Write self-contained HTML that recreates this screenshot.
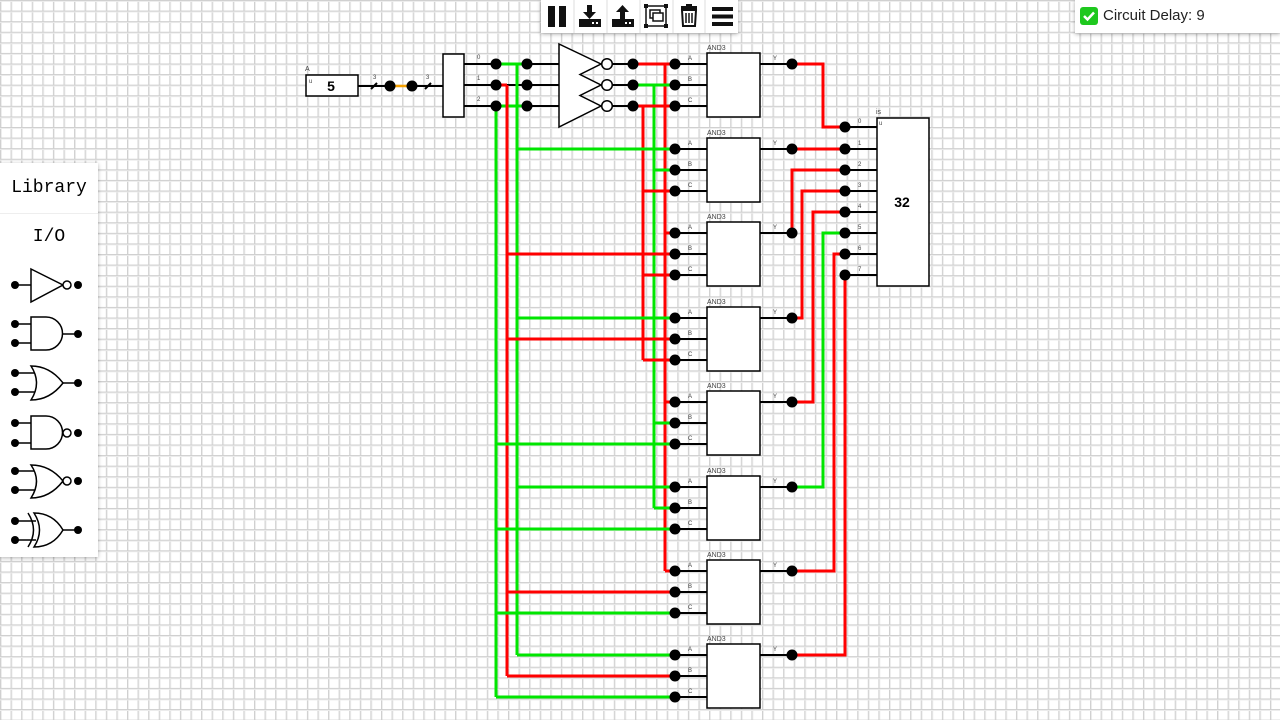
<!DOCTYPE html>
<html><head><meta charset="utf-8"><style>
html,body{margin:0;padding:0;width:1280px;height:720px;overflow:hidden;background:#fff;font-family:"Liberation Sans",sans-serif}
svg{position:absolute;left:0;top:0}
.tb{position:absolute;left:541px;top:0;width:197px;height:33px;background:#fff;box-shadow:0 1px 4px rgba(0,0,0,.35)}
.cd{position:absolute;left:1075px;top:0;width:205px;height:33px;background:#fff;box-shadow:0 1px 4px rgba(0,0,0,.35);font-size:15px;color:#222}
.lib{position:absolute;left:0;top:163px;width:98px;height:394px;background:#fff;box-shadow:0 1px 4px rgba(0,0,0,.3);font-family:"Liberation Mono",monospace}
</style></head><body>
<svg width="1280" height="720" xmlns="http://www.w3.org/2000/svg">
<defs>
<pattern id="g" width="10.583" height="10.583" patternUnits="userSpaceOnUse" x="0" y="0">
<rect width="10.583" height="10.583" fill="#fff"/>
<rect x="0" y="0" width="1" height="10.583" fill="#cfcfcf" shape-rendering="crispEdges"/>
<rect x="1" y="0" width="1" height="10.583" fill="#ececec" shape-rendering="crispEdges"/>
<rect x="0" y="0" width="10.583" height="1" fill="#cfcfcf" shape-rendering="crispEdges"/>
<rect x="0" y="1" width="10.583" height="1" fill="#ececec" shape-rendering="crispEdges"/>
</pattern>
</defs>
<rect width="1280" height="720" fill="url(#g)"/>

<!-- input -->
<text x="305" y="71" font-size="7" fill="#444">A</text>
<rect x="306" y="75" width="52" height="21" fill="#fff" stroke="#000" stroke-width="1.5"/>
<text x="309" y="83" font-size="6" fill="#444">u</text>
<text x="331" y="91" font-size="14" font-weight="bold" text-anchor="middle">5</text>
<g stroke="#000" stroke-width="2">
<line x1="358" y1="86" x2="390" y2="86"/><line x1="412" y1="86" x2="443" y2="86"/>
<line x1="371" y1="89" x2="377" y2="83"/><line x1="425" y1="89" x2="431" y2="83"/>
</g>
<line x1="390" y1="86" x2="412" y2="86" stroke="#f5a000" stroke-width="2.5"/>
<text x="373" y="79" font-size="6" fill="#444">3</text><text x="426" y="79" font-size="6" fill="#444">3</text>
<circle cx="390" cy="86" r="5.5"/><circle cx="412" cy="86" r="5.5"/>
<rect x="443" y="54" width="21" height="63" fill="#fff" stroke="#000" stroke-width="1.5"/>
<text x="477" y="59" font-size="6" fill="#444">0</text><text x="477" y="80" font-size="6" fill="#444">1</text><text x="477" y="101" font-size="6" fill="#444">2</text>

<g stroke="#000" stroke-width="2">
<line x1="464" y1="64" x2="496" y2="64"/><line x1="464" y1="85" x2="496" y2="85"/><line x1="464" y1="106" x2="496" y2="106"/>
<line x1="507" y1="85" x2="527" y2="85"/>
<line x1="527" y1="64" x2="560" y2="64"/><line x1="527" y1="85" x2="560" y2="85"/><line x1="527" y1="106" x2="560" y2="106"/>
<line x1="612" y1="64" x2="633" y2="64"/><line x1="612" y1="85" x2="633" y2="85"/><line x1="612" y1="106" x2="633" y2="106"/>
</g>
<g stroke-width="3" fill="none">
<line x1="500" y1="64" x2="527" y2="64" stroke="#00e600"/>
<line x1="500" y1="106" x2="527" y2="106" stroke="#00e600"/>
<line x1="496" y1="85" x2="507" y2="85" stroke="#f00"/>
<line x1="496" y1="106" x2="496" y2="697" stroke="#00e600"/>
<line x1="507" y1="85" x2="507" y2="676" stroke="#f00"/>
<line x1="517" y1="64" x2="517" y2="655" stroke="#00e600"/>
<line x1="665" y1="64" x2="665" y2="571" stroke="#f00"/>
<line x1="654" y1="85" x2="654" y2="508" stroke="#00e600"/>
<line x1="643" y1="106" x2="643" y2="360" stroke="#f00"/>
<line x1="638" y1="64" x2="675" y2="64" stroke="#f00"/>
<line x1="638" y1="85" x2="675" y2="85" stroke="#00e600"/>
<line x1="638" y1="106" x2="675" y2="106" stroke="#f00"/>
<line x1="517" y1="149" x2="675" y2="149" stroke="#00e600"/>
<line x1="654" y1="170" x2="675" y2="170" stroke="#00e600"/>
<line x1="643" y1="191" x2="675" y2="191" stroke="#f00"/>
<line x1="665" y1="233" x2="675" y2="233" stroke="#f00"/>
<line x1="507" y1="254" x2="675" y2="254" stroke="#f00"/>
<line x1="643" y1="275" x2="675" y2="275" stroke="#f00"/>
<line x1="517" y1="318" x2="675" y2="318" stroke="#00e600"/>
<line x1="507" y1="339" x2="675" y2="339" stroke="#f00"/>
<line x1="643" y1="360" x2="675" y2="360" stroke="#f00"/>
<line x1="665" y1="402" x2="675" y2="402" stroke="#f00"/>
<line x1="654" y1="423" x2="675" y2="423" stroke="#00e600"/>
<line x1="496" y1="444" x2="675" y2="444" stroke="#00e600"/>
<line x1="517" y1="487" x2="675" y2="487" stroke="#00e600"/>
<line x1="654" y1="508" x2="675" y2="508" stroke="#00e600"/>
<line x1="496" y1="529" x2="675" y2="529" stroke="#00e600"/>
<line x1="665" y1="571" x2="675" y2="571" stroke="#f00"/>
<line x1="507" y1="592" x2="675" y2="592" stroke="#f00"/>
<line x1="496" y1="613" x2="675" y2="613" stroke="#00e600"/>
<line x1="517" y1="655" x2="675" y2="655" stroke="#00e600"/>
<line x1="507" y1="676" x2="675" y2="676" stroke="#f00"/>
<line x1="496" y1="697" x2="675" y2="697" stroke="#00e600"/>
<polyline points="792,64 823,64 823,127 845,127" stroke="#f00"/>
<polyline points="792,149 845,149" stroke="#f00"/>
<polyline points="792,233 792,170 845,170" stroke="#f00"/>
<polyline points="792,318 802,318 802,191 845,191" stroke="#f00"/>
<polyline points="792,402 813,402 813,212 845,212" stroke="#f00"/>
<polyline points="792,487 823,487 823,233 845,233" stroke="#00e600"/>
<polyline points="792,571 834,571 834,254 845,254" stroke="#f00"/>
<polyline points="792,655 845,655 845,275" stroke="#f00"/>
</g>
<g fill="#000">
<circle cx="496" cy="64" r="5.5"/><circle cx="496" cy="85" r="5.5"/><circle cx="496" cy="106" r="5.5"/>
<circle cx="527" cy="64" r="5.5"/><circle cx="527" cy="85" r="5.5"/><circle cx="527" cy="106" r="5.5"/>
<circle cx="633" cy="64" r="5.5"/><circle cx="633" cy="85" r="5.5"/><circle cx="633" cy="106" r="5.5"/>
</g>
<path d="M559,44 L601,64 L580,74.5 L601,85 L580,95.5 L601,106 L559,127 Z" fill="#fff" stroke="#000" stroke-width="1.5"/>
<g fill="#fff" stroke="#000" stroke-width="1.5">
<circle cx="607" cy="64" r="5.3"/><circle cx="607" cy="85" r="5.3"/><circle cx="607" cy="106" r="5.3"/>
</g>

<g>
<g>
<text x="707" y="50" font-size="7" fill="#444">AND3</text>
<g stroke="#000" stroke-width="2"><line x1="675" y1="64" x2="707" y2="64"/><line x1="675" y1="85" x2="707" y2="85"/><line x1="675" y1="106" x2="707" y2="106"/><line x1="760" y1="64" x2="792" y2="64"/></g>
<rect x="707" y="53" width="53" height="64" fill="#fff" stroke="#000" stroke-width="1.5"/>
<g font-size="6" fill="#444"><text x="688" y="60">A</text><text x="688" y="81">B</text><text x="688" y="102">C</text><text x="773" y="60">Y</text></g>
<circle cx="675" cy="64" r="5.5"/><circle cx="675" cy="85" r="5.5"/><circle cx="675" cy="106" r="5.5"/><circle cx="792" cy="64" r="5.5"/>
</g>
<g transform="translate(0,85)">
<text x="707" y="50" font-size="7" fill="#444">AND3</text>
<g stroke="#000" stroke-width="2"><line x1="675" y1="64" x2="707" y2="64"/><line x1="675" y1="85" x2="707" y2="85"/><line x1="675" y1="106" x2="707" y2="106"/><line x1="760" y1="64" x2="792" y2="64"/></g>
<rect x="707" y="53" width="53" height="64" fill="#fff" stroke="#000" stroke-width="1.5"/>
<g font-size="6" fill="#444"><text x="688" y="60">A</text><text x="688" y="81">B</text><text x="688" y="102">C</text><text x="773" y="60">Y</text></g>
<circle cx="675" cy="64" r="5.5"/><circle cx="675" cy="85" r="5.5"/><circle cx="675" cy="106" r="5.5"/><circle cx="792" cy="64" r="5.5"/>
</g>
<g transform="translate(0,169)">
<text x="707" y="50" font-size="7" fill="#444">AND3</text>
<g stroke="#000" stroke-width="2"><line x1="675" y1="64" x2="707" y2="64"/><line x1="675" y1="85" x2="707" y2="85"/><line x1="675" y1="106" x2="707" y2="106"/><line x1="760" y1="64" x2="792" y2="64"/></g>
<rect x="707" y="53" width="53" height="64" fill="#fff" stroke="#000" stroke-width="1.5"/>
<g font-size="6" fill="#444"><text x="688" y="60">A</text><text x="688" y="81">B</text><text x="688" y="102">C</text><text x="773" y="60">Y</text></g>
<circle cx="675" cy="64" r="5.5"/><circle cx="675" cy="85" r="5.5"/><circle cx="675" cy="106" r="5.5"/><circle cx="792" cy="64" r="5.5"/>
</g>
<g transform="translate(0,254)">
<text x="707" y="50" font-size="7" fill="#444">AND3</text>
<g stroke="#000" stroke-width="2"><line x1="675" y1="64" x2="707" y2="64"/><line x1="675" y1="85" x2="707" y2="85"/><line x1="675" y1="106" x2="707" y2="106"/><line x1="760" y1="64" x2="792" y2="64"/></g>
<rect x="707" y="53" width="53" height="64" fill="#fff" stroke="#000" stroke-width="1.5"/>
<g font-size="6" fill="#444"><text x="688" y="60">A</text><text x="688" y="81">B</text><text x="688" y="102">C</text><text x="773" y="60">Y</text></g>
<circle cx="675" cy="64" r="5.5"/><circle cx="675" cy="85" r="5.5"/><circle cx="675" cy="106" r="5.5"/><circle cx="792" cy="64" r="5.5"/>
</g>
<g transform="translate(0,338)">
<text x="707" y="50" font-size="7" fill="#444">AND3</text>
<g stroke="#000" stroke-width="2"><line x1="675" y1="64" x2="707" y2="64"/><line x1="675" y1="85" x2="707" y2="85"/><line x1="675" y1="106" x2="707" y2="106"/><line x1="760" y1="64" x2="792" y2="64"/></g>
<rect x="707" y="53" width="53" height="64" fill="#fff" stroke="#000" stroke-width="1.5"/>
<g font-size="6" fill="#444"><text x="688" y="60">A</text><text x="688" y="81">B</text><text x="688" y="102">C</text><text x="773" y="60">Y</text></g>
<circle cx="675" cy="64" r="5.5"/><circle cx="675" cy="85" r="5.5"/><circle cx="675" cy="106" r="5.5"/><circle cx="792" cy="64" r="5.5"/>
</g>
<g transform="translate(0,423)">
<text x="707" y="50" font-size="7" fill="#444">AND3</text>
<g stroke="#000" stroke-width="2"><line x1="675" y1="64" x2="707" y2="64"/><line x1="675" y1="85" x2="707" y2="85"/><line x1="675" y1="106" x2="707" y2="106"/><line x1="760" y1="64" x2="792" y2="64"/></g>
<rect x="707" y="53" width="53" height="64" fill="#fff" stroke="#000" stroke-width="1.5"/>
<g font-size="6" fill="#444"><text x="688" y="60">A</text><text x="688" y="81">B</text><text x="688" y="102">C</text><text x="773" y="60">Y</text></g>
<circle cx="675" cy="64" r="5.5"/><circle cx="675" cy="85" r="5.5"/><circle cx="675" cy="106" r="5.5"/><circle cx="792" cy="64" r="5.5"/>
</g>
<g transform="translate(0,507)">
<text x="707" y="50" font-size="7" fill="#444">AND3</text>
<g stroke="#000" stroke-width="2"><line x1="675" y1="64" x2="707" y2="64"/><line x1="675" y1="85" x2="707" y2="85"/><line x1="675" y1="106" x2="707" y2="106"/><line x1="760" y1="64" x2="792" y2="64"/></g>
<rect x="707" y="53" width="53" height="64" fill="#fff" stroke="#000" stroke-width="1.5"/>
<g font-size="6" fill="#444"><text x="688" y="60">A</text><text x="688" y="81">B</text><text x="688" y="102">C</text><text x="773" y="60">Y</text></g>
<circle cx="675" cy="64" r="5.5"/><circle cx="675" cy="85" r="5.5"/><circle cx="675" cy="106" r="5.5"/><circle cx="792" cy="64" r="5.5"/>
</g>
<g transform="translate(0,591)">
<text x="707" y="50" font-size="7" fill="#444">AND3</text>
<g stroke="#000" stroke-width="2"><line x1="675" y1="64" x2="707" y2="64"/><line x1="675" y1="85" x2="707" y2="85"/><line x1="675" y1="106" x2="707" y2="106"/><line x1="760" y1="64" x2="792" y2="64"/></g>
<rect x="707" y="53" width="53" height="64" fill="#fff" stroke="#000" stroke-width="1.5"/>
<g font-size="6" fill="#444"><text x="688" y="60">A</text><text x="688" y="81">B</text><text x="688" y="102">C</text><text x="773" y="60">Y</text></g>
<circle cx="675" cy="64" r="5.5"/><circle cx="675" cy="85" r="5.5"/><circle cx="675" cy="106" r="5.5"/><circle cx="792" cy="64" r="5.5"/>
</g>
</g>

<g stroke="#000" stroke-width="2">
<line x1="845" y1="127" x2="877" y2="127"/><line x1="845" y1="149" x2="877" y2="149"/><line x1="845" y1="170" x2="877" y2="170"/><line x1="845" y1="191" x2="877" y2="191"/>
<line x1="845" y1="212" x2="877" y2="212"/><line x1="845" y1="233" x2="877" y2="233"/><line x1="845" y1="254" x2="877" y2="254"/><line x1="845" y1="275" x2="877" y2="275"/>
</g>
<rect x="877" y="118" width="52" height="168" fill="#fff" stroke="#000" stroke-width="1.5"/>
<text x="876" y="114" font-size="7" fill="#444">is</text>
<text x="879" y="125" font-size="6" fill="#444">u</text>
<text x="902" y="207" font-size="14" font-weight="bold" text-anchor="middle">32</text>
<g font-size="6" fill="#444">
<text x="858" y="123">0</text><text x="858" y="145">1</text><text x="858" y="166">2</text><text x="858" y="187">3</text>
<text x="858" y="208">4</text><text x="858" y="229">5</text><text x="858" y="250">6</text><text x="858" y="271">7</text>
</g>
<g>
<circle cx="845" cy="127" r="5.5"/><circle cx="845" cy="149" r="5.5"/><circle cx="845" cy="170" r="5.5"/><circle cx="845" cy="191" r="5.5"/>
<circle cx="845" cy="212" r="5.5"/><circle cx="845" cy="233" r="5.5"/><circle cx="845" cy="254" r="5.5"/><circle cx="845" cy="275" r="5.5"/>
</g>
</svg>

<div class="tb">
<svg width="197" height="33" viewBox="0 0 197 33">
<g fill="#111">
<rect x="7" y="6" width="7" height="21"/><rect x="18" y="6" width="7" height="21"/>
</g>
<line x1="33" y1="0" x2="33" y2="33" stroke="#ddd"/><line x1="66" y1="0" x2="66" y2="33" stroke="#ddd"/><line x1="99" y1="0" x2="99" y2="33" stroke="#ddd"/><line x1="132" y1="0" x2="132" y2="33" stroke="#ddd"/><line x1="164" y1="0" x2="164" y2="33" stroke="#ddd"/>
<path d="M46,5 h5 v7 h4 l-6.5,7 l-6.5,-7 h4 z" fill="#111"/>
<rect x="38" y="19" width="22" height="8" fill="#111"/><rect x="51" y="22" width="2" height="2" fill="#fff"/><rect x="55" y="22" width="2" height="2" fill="#fff"/>
<path d="M79,19 h5 v-7 h4 l-6.5,-7 l-6.5,7 h4 z" fill="#111"/>
<rect x="71" y="19" width="22" height="8" fill="#111"/><rect x="84" y="22" width="2" height="2" fill="#fff"/><rect x="88" y="22" width="2" height="2" fill="#fff"/>
<rect x="105" y="6" width="20" height="20" fill="none" stroke="#111" stroke-width="1.5"/>
<rect x="109" y="10" width="10" height="8" fill="none" stroke="#111" stroke-width="1.5"/>
<rect x="112" y="13" width="10" height="8" fill="#fff" stroke="#111" stroke-width="1.5"/>
<g fill="#111"><rect x="103" y="4" width="4" height="4"/><rect x="123" y="4" width="4" height="4"/><rect x="103" y="24" width="4" height="4"/><rect x="123" y="24" width="4" height="4"/></g>
<rect x="140" y="6" width="16" height="3" fill="#111"/><rect x="145" y="4" width="6" height="3" fill="#111"/>
<path d="M141,10 h14 l-1,16 h-12 z" fill="none" stroke="#111" stroke-width="2"/>
<g stroke="#111" stroke-width="1.5"><line x1="145" y1="13" x2="145" y2="23"/><line x1="148" y1="13" x2="148" y2="23"/><line x1="151" y1="13" x2="151" y2="23"/></g>
<g fill="#111"><rect x="171" y="7" width="21" height="4"/><rect x="171" y="14.5" width="21" height="4"/><rect x="171" y="22" width="21" height="4"/></g>
</svg>
</div>

<div class="cd">
<svg width="20" height="20" style="position:absolute;left:5px;top:7px"><rect x="0" y="0" width="18" height="18" rx="3" fill="#1ec81e"/><path d="M4,9 l3.5,3.5 l6.5,-7" stroke="#fff" stroke-width="2.5" fill="none"/></svg>
<span style="position:absolute;left:28px;top:7px">Circuit Delay: 9</span>
</div>

<div class="lib">
<div style="position:absolute;top:15px;width:98px;text-align:center;font-size:18px">Library</div>
<div style="position:absolute;top:50px;left:0;width:98px;height:1px;background:#eee"></div>
<div style="position:absolute;top:64px;width:98px;text-align:center;font-size:18px">I/O</div>
<svg width="98" height="394" style="position:absolute;left:0;top:0">
<g stroke="#000" stroke-width="1.5" fill="#fff">
<line x1="15" y1="122" x2="31" y2="122"/>
<path d="M31,106 L63,122 L31,139 Z"/>
<circle cx="67" cy="122" r="4"/>
<line x1="15" y1="161" x2="31" y2="161"/><line x1="15" y1="180" x2="31" y2="180"/><line x1="62" y1="171" x2="78" y2="171"/>
<path d="M31,154 H46 A16,16 0 0 1 46,187 H31 Z"/>
<line x1="15" y1="210" x2="38" y2="210"/><line x1="15" y1="229" x2="38" y2="229"/><line x1="62" y1="220" x2="78" y2="220"/>
<path d="M31,203 Q50,203 63,220 Q50,237 31,237 Q42,220 31,203 Z"/>
<line x1="15" y1="260" x2="31" y2="260"/><line x1="15" y1="280" x2="31" y2="280"/>
<path d="M31,253 H46 A16,16 0 0 1 46,286 H31 Z"/>
<circle cx="67" cy="270" r="4"/>
<line x1="15" y1="308" x2="38" y2="308"/><line x1="15" y1="327" x2="38" y2="327"/>
<path d="M31,302 Q50,302 63,318 Q50,335 31,335 Q42,318 31,302 Z"/>
<circle cx="67" cy="318" r="4"/>
<line x1="15" y1="358" x2="36" y2="358"/><line x1="15" y1="377" x2="36" y2="377"/><line x1="62" y1="367" x2="78" y2="367"/>
<path d="M34,350 Q53,350 63,367 Q53,384 34,384 Q45,367 34,350 Z"/>
<path d="M28,350 Q39,367 28,384" fill="none"/>
</g>
<g fill="#000">
<circle cx="15" cy="122" r="4"/><circle cx="78" cy="122" r="4"/>
<circle cx="15" cy="161" r="4"/><circle cx="15" cy="180" r="4"/><circle cx="78" cy="171" r="4"/>
<circle cx="15" cy="210" r="4"/><circle cx="15" cy="229" r="4"/><circle cx="78" cy="220" r="4"/>
<circle cx="15" cy="260" r="4"/><circle cx="15" cy="280" r="4"/><circle cx="78" cy="270" r="4"/>
<circle cx="15" cy="308" r="4"/><circle cx="15" cy="327" r="4"/><circle cx="78" cy="318" r="4"/>
<circle cx="15" cy="358" r="4"/><circle cx="15" cy="377" r="4"/><circle cx="78" cy="367" r="4"/>
</g>
</svg>
</div>
</body></html>
